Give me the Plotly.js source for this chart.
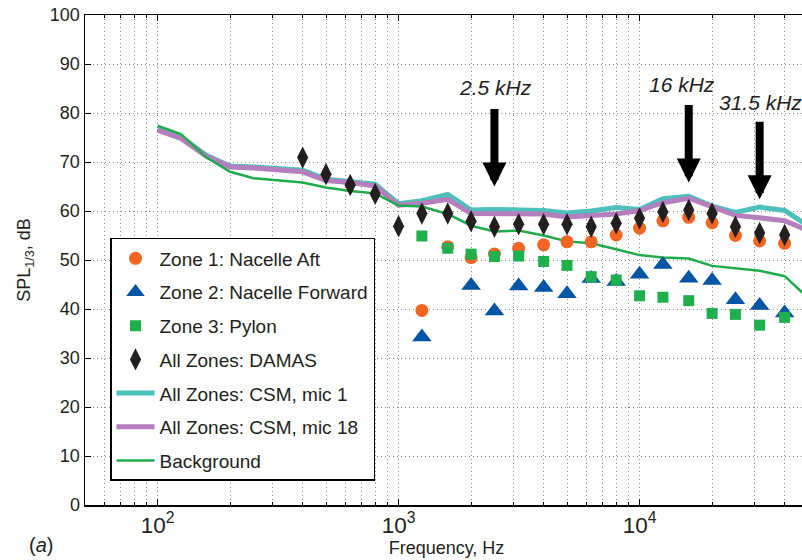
<!DOCTYPE html>
<html>
<head>
<meta charset="utf-8">
<script src="https://cdn.plot.ly/plotly-3.0.1.min.js"></script>
<style>
  html, body { margin: 0; padding: 0; overflow: hidden; background: #ffffff; }
  #chart { width: 810px; height: 560px; }
</style>
</head>
<body>
<div id="chart"></div>
<script>
// One-third octave band centre frequencies (Hz)
const bandFreq = [100, 125, 160, 200, 250, 315, 400, 500, 630, 800, 1000, 1250, 1600, 2000,
  2500, 3150, 4000, 5000, 6300, 8000, 10000, 12500, 16000, 20000, 25000, 31500, 40000, 50000];

// Integrated spectra over the full band range (dB)
const csmMic1 = [76.8, 75.1, 71.3, 69.2, 69.0, 68.7, 68.3, 66.5, 66.1, 65.5, 61.5, 62.1, 63.4, 60.2,
  60.3, 60.1, 60.1, 59.6, 60.0, 60.7, 60.3, 62.5, 63.0, 61.0, 59.7, 60.8, 60.1, 57.0];
const csmMic18 = [76.5, 74.8, 71.1, 69.0, 68.8, 68.5, 68.0, 66.2, 65.8, 65.1, 61.2, 61.6, 62.4, 59.5,
  59.5, 59.4, 59.4, 58.8, 59.0, 59.4, 60.1, 61.7, 62.6, 60.8, 59.1, 58.6, 58.0, 56.0];
const background = [77.4, 75.7, 70.9, 68.0, 66.7, 66.2, 65.8, 64.8, 64.1, 63.6, 61.1, 60.9, 59.4, 57.0,
  55.8, 56.0, 55.0, 53.8, 53.4, 52.2, 51.0, 50.5, 50.3, 48.8, 48.3, 47.8, 46.7, 42.3];

// DAMAS integrations, all zones
const damasFreq = [400, 500, 630, 800, 1000, 1250, 1600, 2000, 2500, 3150, 4000, 5000, 6300, 8000,
  10000, 12500, 16000, 20000, 25000, 31500, 40000];
const damasAll = [70.9, 67.5, 65.3, 63.5, 56.9, 59.5, 59.5, 57.9, 56.8, 57.3, 57.3, 57.3, 56.8, 57.5,
  58.5, 59.8, 60.2, 59.5, 56.8, 55.5, 55.1];

// Zone integrations
const zoneFreq = [1250, 1600, 2000, 2500, 3150, 4000, 5000, 6300, 8000, 10000, 12500, 16000, 20000,
  25000, 31500, 40000];
const zone1 = [39.7, 52.7, 50.5, 51.2, 52.4, 53.1, 53.7, 53.7, 55.1, 56.5, 58.0, 58.7, 57.6, 55.0, 53.9, 53.4];
const zone2 = [34.3, null, 44.8, 39.6, 44.7, 44.4, 43.1, 46.2, 45.6, 47.1, 49.1, 46.3, 45.8, 41.9, 40.7, 39.2];
const zone3 = [54.9, 52.4, 51.2, 50.7, 50.8, 49.7, 48.9, 46.6, 45.9, 42.7, 42.4, 41.7, 39.1, 38.9, 36.7, 38.3];

// Highlighted bands
const markFreq = [2500, 16000, 31500];
const markLabel = ['2.5 kHz', '16 kHz', '31.5 kHz'];
const markTip = [65.0, 65.8, 62.4];
const markText = [85.3, 85.9, 82.2];

// Axis ticks
const yTicks = [0, 10, 20, 30, 40, 50, 60, 70, 80, 90, 100];

const FONT = 'Liberation Sans, Arial, Helvetica, sans-serif';
const INK = '#231f20';

const traces = [
  { x: bandFreq, y: csmMic1, name: 'All Zones: CSM, mic 1', mode: 'lines', legendrank: 5,
    legendgroup: 'g5', line: { color: '#4dc0bc', width: 5 } },
  { x: bandFreq, y: csmMic18, name: 'All Zones: CSM, mic 18', mode: 'lines', legendrank: 6,
    legendgroup: 'g6', line: { color: '#b57ebc', width: 5 } },
  { x: bandFreq, y: background, name: 'Background', mode: 'lines', legendrank: 7,
    legendgroup: 'g7', line: { color: '#1fab4b', width: 2.5 } },
  { x: zoneFreq, y: zone1, name: 'Zone 1: Nacelle Aft', mode: 'markers', legendrank: 1,
    legendgroup: 'g1', marker: { symbol: 'circle', size: 13, color: '#f26522' } },
  { x: zoneFreq, y: zone2, name: 'Zone 2: Nacelle Forward', mode: 'markers', legendrank: 2,
    legendgroup: 'g2', marker: { symbol: 'triangle-up', size: 17, color: '#0055a5' } },
  { x: zoneFreq, y: zone3, name: 'Zone 3: Pylon', mode: 'markers', legendrank: 3,
    legendgroup: 'g3', marker: { symbol: 'square', size: 11, color: '#1fb04e' } },
  { x: damasFreq, y: damasAll, name: 'All Zones: DAMAS', mode: 'markers', legendrank: 4,
    legendgroup: 'g4', marker: { symbol: 'diamond-tall', size: 16, color: INK } }
];

const annotations = [];
markFreq.forEach((f, i) => {
  // arrow pointing down at the band
  annotations.push({
    x: Math.log10(f), y: markTip[i], xref: 'x', yref: 'y', text: '',
    showarrow: true, arrowhead: 2, arrowwidth: 8, arrowsize: 0.6, arrowcolor: '#000000',
    ax: 0, ay: -79, axref: 'pixel', ayref: 'pixel'
  });
  // band label above the arrow
  annotations.push({
    x: Math.log10(f), y: markText[i], xref: 'x', yref: 'y', showarrow: false,
    text: '<i>' + markLabel[i] + '</i>', xshift: i === 1 ? -7 : 1,
    font: { family: FONT, size: 21, color: INK }
  });
});
// panel tag in the lower-left corner
annotations.push({
  x: -0.08, y: -0.108, xref: 'paper', yref: 'paper', yanchor: 'bottom', showarrow: false,
  text: '(<i>a</i>)', font: { family: FONT, size: 20, color: INK }
});

const gridStyle = { gridcolor: '#8a8a8a', griddash: '1px,3px', gridwidth: 1 };

const layout = {
  width: 810, height: 560,
  margin: { l: 85, r: 2, t: 15, b: 55 },
  paper_bgcolor: '#ffffff', plot_bgcolor: '#ffffff',
  font: { family: FONT, size: 18, color: INK },
  showlegend: true,
  legend: {
    x: 0.0346, y: 0.545, xanchor: 'left', yanchor: 'top',
    bgcolor: '#ffffff', bordercolor: '#000000', borderwidth: 1.5,
    traceorder: 'grouped', tracegroupgap: 6, itemwidth: 38,
    font: { family: FONT, size: 19, color: INK }
  },
  xaxis: Object.assign({
    type: 'log', range: [Math.log10(50), Math.log10(50000)],
    dtick: 1, exponentformat: 'power', showexponent: 'all',
    showgrid: true, zeroline: false,
    showline: true, linecolor: '#000000', linewidth: 1.5, mirror: 'ticks',
    ticks: 'inside', ticklen: 6, tickcolor: '#000000',
    tickfont: { family: FONT, size: 18, color: INK },
    minor: Object.assign({ dtick: 'D1', showgrid: true, ticks: 'inside', ticklen: 3, tickcolor: '#000000' }, gridStyle),
    title: { text: 'Frequency, Hz', font: { family: FONT, size: 18, color: INK }, standoff: 2 }
  }, gridStyle),
  yaxis: Object.assign({
    range: [0, 100], tickvals: yTicks, showgrid: true, zeroline: false,
    showline: true, linecolor: '#000000', linewidth: 1.5, mirror: 'ticks',
    ticks: 'inside', ticklen: 6, tickcolor: '#000000',
    tickfont: { family: FONT, size: 18, color: INK },
    title: { text: 'SPL<sub>1/3</sub>, dB', font: { family: FONT, size: 18, color: INK }, standoff: 14 }
  }, gridStyle),
  annotations: annotations
};

Plotly.newPlot('chart', traces, layout, { staticPlot: true, displayModeBar: false });
</script>
</body>
</html>
